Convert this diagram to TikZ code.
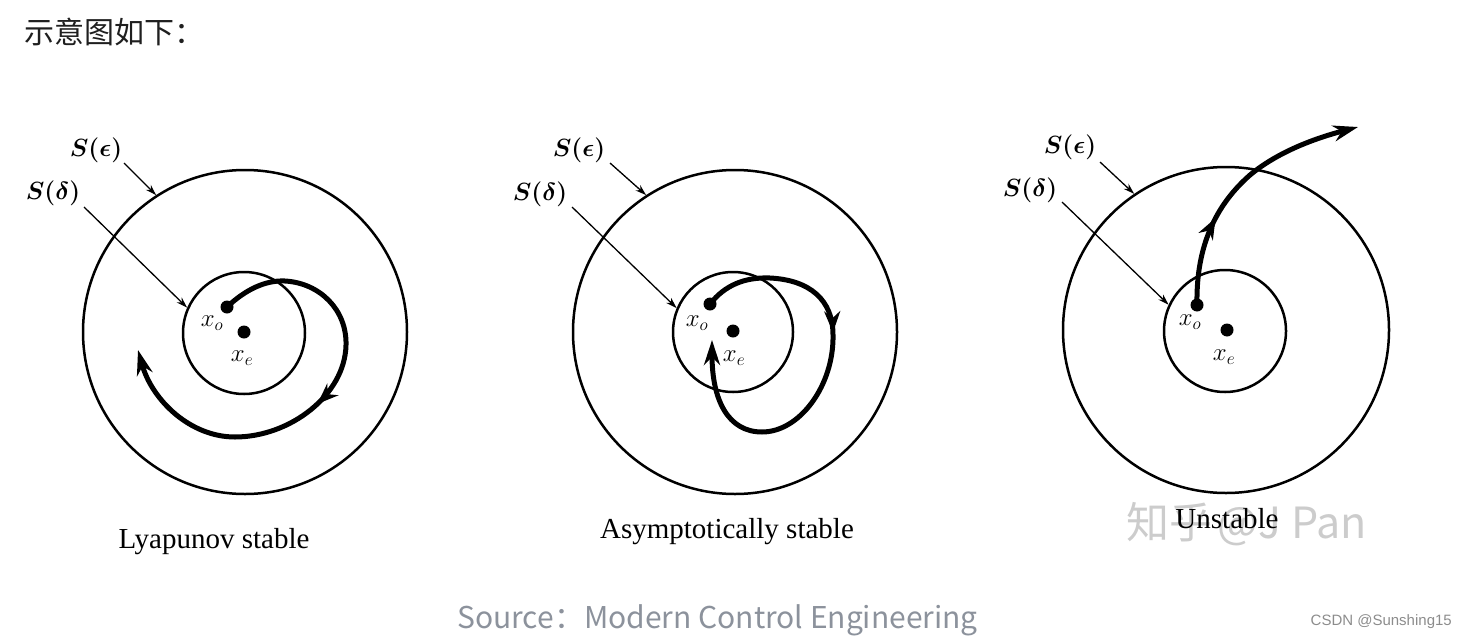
\documentclass[tikz,border=0pt]{standalone}
\usepackage{fontspec}
\setmainfont{Liberation Serif}
\newfontfamily\cjk{Noto Sans CJK SC}
\newfontfamily\lsans{Liberation Sans}
\usetikzlibrary{arrows.meta,decorations.markings}
\begin{document}
\begin{tikzpicture}[x=1pt,y=-1pt,
  ring/.style={circle,draw,line width=2.5pt,inner sep=0pt},
  dotnode/.style={circle,fill,minimum size=13pt,inner sep=0pt},
  traj/.style={line width=5pt},
  leader/.style={line width=1.3pt,-{Stealth[length=11pt,width=7pt]}},
  lbl/.style={font=\boldmath\fontsize{25}{25}\selectfont,inner sep=0pt},
  sublbl/.style={font=\fontsize{25}{25}\selectfont,inner sep=0pt},
  caption/.style={font=\fontsize{29}{29}\selectfont,anchor=base,inner sep=0pt},
  tipend/.style={-{Stealth[length=25pt,width=16pt]}},
  midarrow/.style={postaction={decorate},decoration={markings,mark=at position #1 with {\arrow{Stealth[length=21pt,width=16pt]}}}}
]
\useasboundingbox (0,0) rectangle (1466,637);

% header
\node[anchor=base west,font=\cjk\fontsize{30}{30}\selectfont,text=black!88,inner sep=0pt] (head) at (24,43) {示意图如下：};

% ---------- panel 1 ----------
\node[ring,minimum size=324pt] (o1) at (245,332) {};
\node[ring,minimum size=122pt] (i1) at (244,333) {};
\node[lbl] (se1) at (96,150) {$S(\epsilon)$};
\node[lbl] (sd1) at (53,193) {$S(\delta)$};
\coordinate (se1s) at (124,163);
\coordinate (sd1s) at (84,207);
\draw[leader] (se1s) -- (o1.123);
\draw[leader] (sd1s) -- (i1.156);
\draw[traj,tipend,midarrow=0.5] (227,307) .. controls (245,290) and (265,280) .. (285,281)
  .. controls (320,283) and (347,310) .. (346,345)
  .. controls (345,395) and (290,437) .. (235,437)
  .. controls (190,437) and (152,400) .. (138,350);
\node[dotnode] (d1) at (227,307) {};
\node[dotnode] (e1) at (244,332) {};
\node[sublbl] (xo1) at (212,323) {$x_o$};
\node[sublbl] (xe1) at (242,358) {$x_e$};
\node[caption] (c1) at (214,548) {Lyapunov stable};

% ---------- panel 2 ----------
\node[ring,minimum size=324pt] (o2) at (735,332) {};
\node[ring,minimum size=120pt] (i2) at (733,332) {};
\node[lbl] (se2) at (579,150) {$S(\epsilon)$};
\node[lbl] (sd2) at (540,194) {$S(\delta)$};
\coordinate (se2s) at (610,163);
\coordinate (sd2s) at (572,207);
\draw[leader] (se2s) -- (o2.123.6);
\draw[leader] (sd2s) -- (i2.157.5);
\draw[traj,tipend,midarrow=0.39] (710,304) .. controls (725,285) and (745,277) .. (770,278)
  .. controls (810,280) and (833,300) .. (833,335)
  .. controls (834,385) and (800,432) .. (762,432)
  .. controls (728,432) and (712,400) .. (712,340);
\node[dotnode] (d2) at (710,304) {};
\node[dotnode] (e2) at (733,331) {};
\node[sublbl] (xo2) at (697,323) {$x_o$};
\node[sublbl] (xe2) at (734,358) {$x_e$};
\node[caption] (c2) at (727,538) {Asymptotically stable};

% ---------- panel 3 ----------
\node[ring,minimum size=326pt] (o3) at (1226,330) {};
\node[ring,minimum size=122pt] (i3) at (1225,331) {};
\node[lbl] (se3) at (1070,147) {$S(\epsilon)$};
\node[lbl] (sd3) at (1030,190) {$S(\delta)$};
\coordinate (se3s) at (1100,162);
\coordinate (sd3s) at (1062,202);
\draw[leader] (se3s) -- (o3.124);
\draw[leader] (sd3s) -- (i3.155);
\draw[traj,tipend,midarrow=0.34] (1197,305) .. controls (1196,255) and (1210,210) .. (1250,175)
  .. controls (1280,150) and (1320,137) .. (1358,127);
\node[dotnode] (d3) at (1197,305) {};
\node[dotnode] (e3) at (1227,330) {};
\node[sublbl] (xo3) at (1190,322) {$x_o$};
\node[sublbl] (xe3) at (1224,357) {$x_e$};
\node[anchor=base west,font=\cjk\fontsize{43}{43}\selectfont,text=black!20,inner sep=0pt] (wm) at (1126,538) {知乎\hspace{-4pt} @J Pan};
\node[caption] (c3) at (1227,528) {Unstable};

% footer
\node[anchor=base west,font=\cjk\fontsize{30}{30}\selectfont,text={rgb,255:red,140;green,146;blue,156},inner sep=0pt] (src) at (457,628) {Source：Modern Control Engineering};
\node[anchor=base east,font=\lsans\fontsize{15}{15}\selectfont,text=black!45,inner sep=0pt] (csdn) at (1452,625) {CSDN @Sunshing15};
\end{tikzpicture}
\end{document}
